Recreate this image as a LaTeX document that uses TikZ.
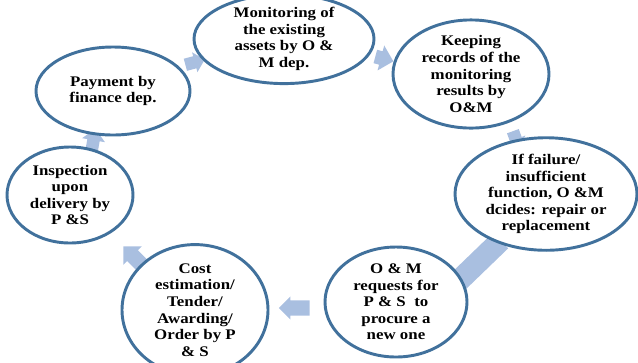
\documentclass[tikz,border=0pt]{standalone}
\usepackage{fontspec}
\setmainfont{Liberation Serif}[FakeStretch=1.15]
\usepackage{tikz}
\usetikzlibrary{shapes.geometric, shapes.arrows, arrows.meta, positioning, calc}
\definecolor{ringStroke}{HTML}{41719C}
\definecolor{flowFill}{HTML}{A9BFE0}
\begin{document}
\begin{tikzpicture}[
		x=0.75pt, y=-0.75pt,
		%--- Node Styles ---------------------------------------------------
		stage/.style={
			ellipse,
			draw=ringStroke,
			fill=white,
			line width=2.2pt,
			inner sep=0pt,
			align=center,
			font=\fontsize{11}{12.4}\selectfont\bfseries
		},
		%--- Arrow Styles --------------------------------------------------
		cyclearrow/.style={
			single arrow,
			fill=flowFill,
			draw=none,
			inner sep=0pt,
			text width=0pt
		}
		]
		
		\useasboundingbox (0,0) rectangle (638,362);
		
		%--- Block Arrows (drawn first, stages sit on top) ---------------------
		
		\node[cyclearrow, rotate=15, minimum height=15pt, text height=4.5pt, text depth=4.5pt,
			single arrow head extend=3pt] (a1) at (192,63) {};
		\node[cyclearrow, rotate=-15, minimum height=14pt, text height=5pt, text depth=5pt,
			single arrow head extend=4.5pt] (a2) at (381,58) {};
		\node[cyclearrow, rotate=-70, minimum height=14pt, text height=4.5pt, text depth=4.5pt,
			single arrow head extend=3pt] (a3) at (515,137) {};
		\node[cyclearrow, rotate=224, minimum height=72pt, text height=8pt, text depth=8pt,
			single arrow head extend=6pt] (a4) at (470,270) {};
		\node[cyclearrow, rotate=180, minimum height=23pt, text height=5.5pt, text depth=5.5pt,
			single arrow head extend=3pt] (a5) at (298,308) {};
		\node[cyclearrow, rotate=135, minimum height=23pt, text height=5.5pt, text depth=5.5pt,
			single arrow head extend=4pt] (a6) at (137,260) {};
		\node[cyclearrow, rotate=80, minimum height=17pt, text height=4.5pt, text depth=4.5pt,
			single arrow head extend=4pt] (a7) at (93,143) {};
		
		%--- Stages of the Cycle (clockwise from top) --------------------------
		
		\node[stage, minimum width=135pt, minimum height=51pt] (monitor) at (284,39)
		{Monitoring of\\the existing\\assets by O \&\\M dep.};
		
		\node[stage, minimum width=117pt, minimum height=76.5pt] (records) at (471,74)
		{Keeping\\records of the\\monitoring\\results by\\O\&M};
		
		\node[stage, minimum width=136.5pt, minimum height=75pt] (decide) at (546,194)
		{If failure/\\insufficient\\function, O \&M\\dcides: repair or\\replacement};
		
		\node[stage, minimum width=106.5pt, minimum height=82.5pt] (request) at (396,302)
		{O \& M\\requests for\\P \& S\ \ to\\procure a\\new one};
		
		\node[stage, minimum width=109.5pt, minimum height=73.5pt] (order) at (195,310)
		{Cost\\estimation/\\Tender/\\Awarding/\\Order by P\\\& S};
		
		\node[stage, minimum width=94.5pt, minimum height=72pt] (inspect) at (70,195)
		{Inspection\\upon\\delivery by\\P \&S};
		
		\node[stage, minimum width=115.5pt, minimum height=66pt] (payment) at (113,91)
		{Payment by\\finance dep.};
		
	\end{tikzpicture}
\end{document}
